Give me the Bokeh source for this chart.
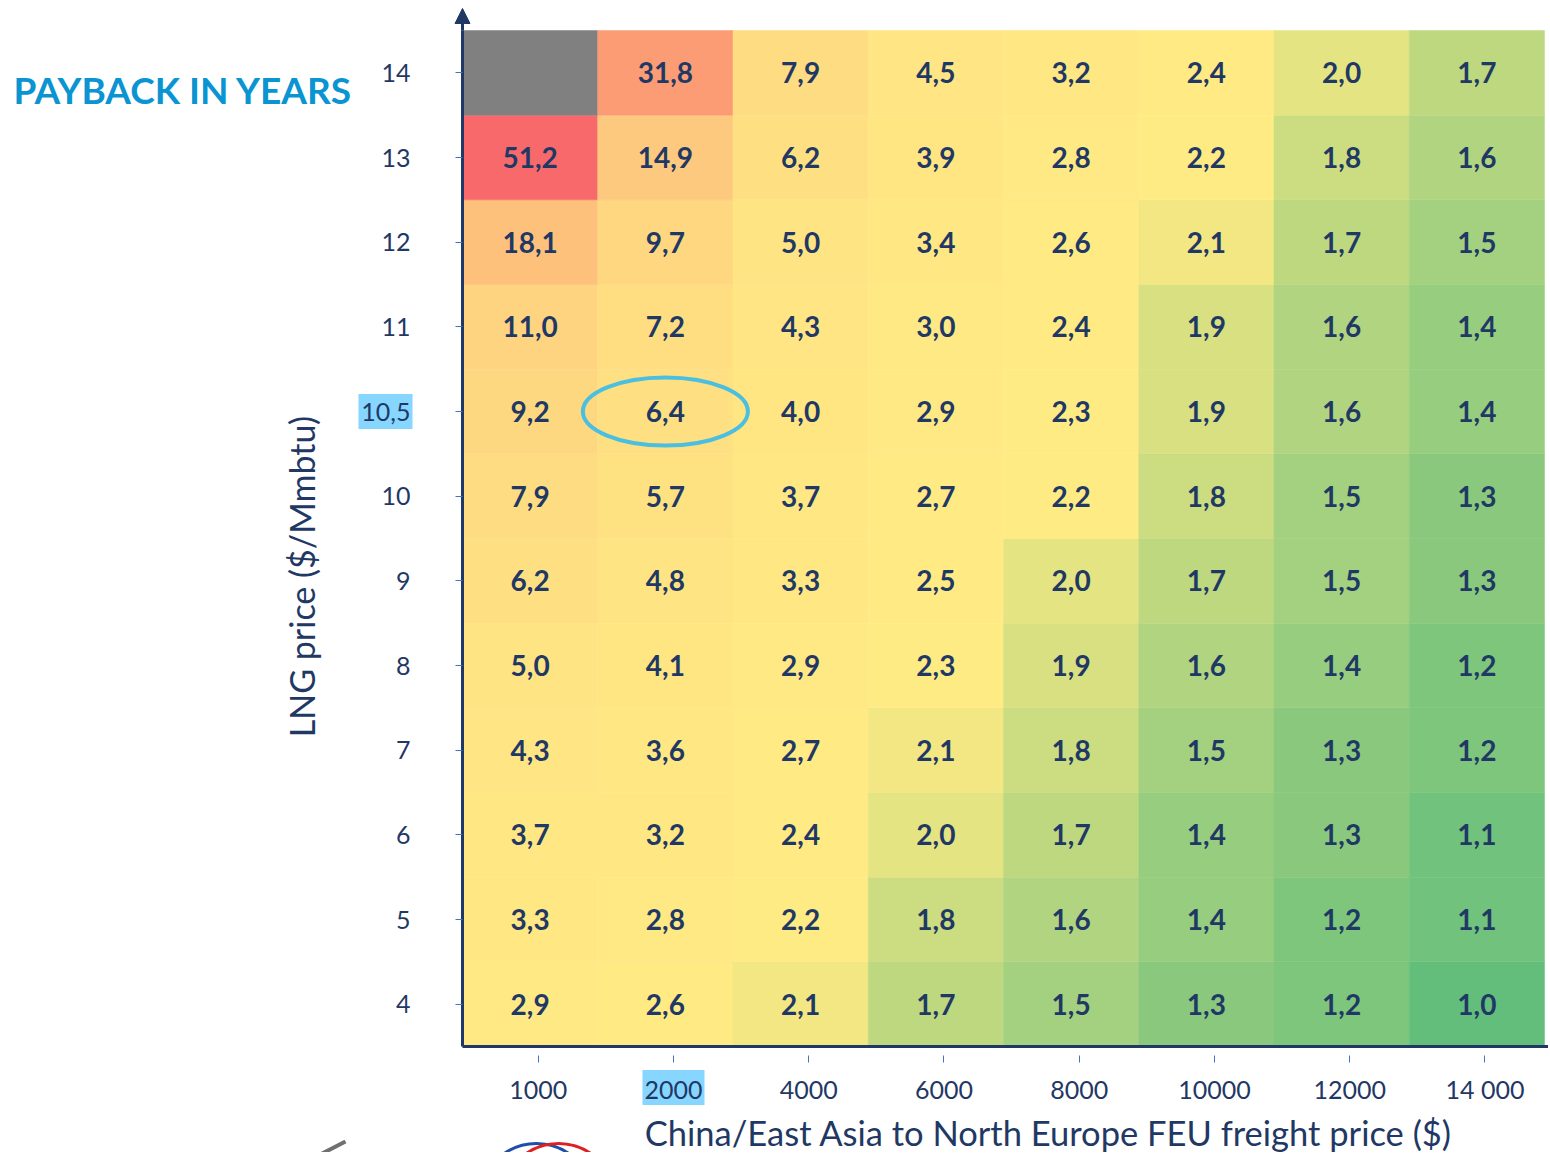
import numpy as np
from bokeh.plotting import figure
from bokeh.models import FixedTicker, Range1d, Label, Arrow, NormalHead, ColumnDataSource
from bokeh.core.properties import value
from bokeh.embed import file_html
from bokeh.resources import INLINE

# ---------------- data ----------------
freight_labels = ["1000", "2000", "4000", "6000", "8000", "10000", "12000", "14 000"]
lng_labels = ["4", "5", "6", "7", "8", "9", "10", "10,5", "11", "12", "13", "14"]  # bottom -> top

# payback in years, rows from LNG price 4 (bottom) up to 14 (top); None = empty cell
row_4 = [2.9, 2.6, 2.1, 1.7, 1.5, 1.3, 1.2, 1.0]
row_5 = [3.3, 2.8, 2.2, 1.8, 1.6, 1.4, 1.2, 1.1]
row_6 = [3.7, 3.2, 2.4, 2.0, 1.7, 1.4, 1.3, 1.1]
row_7 = [4.3, 3.6, 2.7, 2.1, 1.8, 1.5, 1.3, 1.2]
row_8 = [5.0, 4.1, 2.9, 2.3, 1.9, 1.6, 1.4, 1.2]
row_9 = [6.2, 4.8, 3.3, 2.5, 2.0, 1.7, 1.5, 1.3]
row_10 = [7.9, 5.7, 3.7, 2.7, 2.2, 1.8, 1.5, 1.3]
row_10_5 = [9.2, 6.4, 4.0, 2.9, 2.3, 1.9, 1.6, 1.4]
row_11 = [11.0, 7.2, 4.3, 3.0, 2.4, 1.9, 1.6, 1.4]
row_12 = [18.1, 9.7, 5.0, 3.4, 2.6, 2.1, 1.7, 1.5]
row_13 = [51.2, 14.9, 6.2, 3.9, 2.8, 2.2, 1.8, 1.6]
row_14 = [None, 31.8, 7.9, 4.5, 3.2, 2.4, 2.0, 1.7]
rows = [row_4, row_5, row_6, row_7, row_8, row_9, row_10, row_10_5, row_11, row_12, row_13, row_14]

highlight_freight = "2000"
highlight_lng = "10,5"

# ---------------- colour scale (red-yellow-green, 3 point) ----------------
all_vals = np.array([v for r in rows for v in r if v is not None])
lo, mid, hi = all_vals.min(), np.percentile(all_vals, 50), all_vals.max()
c_lo = np.array([0x63, 0xBE, 0x7B])
c_mid = np.array([0xFF, 0xEB, 0x84])
c_hi = np.array([0xF8, 0x69, 0x6B])


def scale_color(v):
    if v is None:
        return "#808080"
    if v <= mid:
        t = (v - lo) / (mid - lo)
        c = c_lo + (c_mid - c_lo) * t
    else:
        t = (v - mid) / (hi - mid)
        c = c_mid + (c_hi - c_mid) * t
    c = np.clip(np.round(c), 0, 255).astype(int)
    return "#%02x%02x%02x" % tuple(c)


xs, ys, cols, txt = [], [], [], []
for j, r in enumerate(rows):
    for i, v in enumerate(r):
        xs.append(i + 0.5)
        ys.append(j + 0.5)
        cols.append(scale_color(v))
        txt.append("" if v is None else f"{v:.1f}".replace(".", ","))
src = ColumnDataSource(dict(x=xs, y=ys, color=cols, text=txt))

NAVY = "#1F3864"
TICK_BLUE = "#4472C4"

# ---------------- layout geometry (pixels) ----------------
W, H = 1548, 1152
grid_left, grid_right, grid_top, grid_bottom = 462, 1544, 30, 1046
ncol, nrow = len(freight_labels), len(lng_labels)
px_x = (grid_right - grid_left) / ncol
px_y = (grid_bottom - grid_top) / nrow
x_range = Range1d(-grid_left / px_x, ncol + (W - grid_right) / px_x)
y_range = Range1d(-(H - grid_bottom) / px_y, nrow + grid_top / px_y)


def dx(px):  # page x -> data x
    return (px - grid_left) / px_x


def dy(py):  # page y -> data y
    return (grid_bottom - py) / px_y


p = figure(width=W, height=H, output_backend="svg", toolbar_location=None,
           x_range=x_range, y_range=y_range,
           min_border_left=0, min_border_right=0, min_border_top=0, min_border_bottom=0)
p.outline_line_color = None
p.xgrid.visible = False
p.ygrid.visible = False
p.background_fill_color = "white"
p.border_fill_color = "white"

p.rect(x="x", y="y", width=1, height=1, fill_color="color", line_color="color",
       line_width=0.5, source=src)
p.text(x="x", y="y", text="text", source=src, text_align="center", text_baseline="middle",
       text_font_size="28px", text_font_style="bold", text_color=NAVY,
       text_font=value("Lato"))

# ellipse around the highlighted cell
hx = freight_labels.index(highlight_freight) + 0.5
hy = lng_labels.index(highlight_lng) + 0.5
p.ellipse(x=[hx], y=[hy], width=[165], height=[68], width_units="screen",
          height_units="screen", fill_alpha=0, line_color="#4BBFE0", line_width=4)

# highlight boxes behind two tick labels
x_tick_off = 0.56
p.rect(x=[freight_labels.index(highlight_freight) + x_tick_off], y=[dy(1087)],
       width=[62], height=[35], width_units="screen", height_units="screen",
       fill_color="#86D6FF", line_color=None)
p.rect(x=[dx(385)], y=[lng_labels.index(highlight_lng) + 0.5],
       width=[54], height=[35], width_units="screen", height_units="screen",
       fill_color="#86D6FF", line_color=None)

# axes placed at the edges of the grid
xax = p.xaxis[0]
xax.fixed_location = 0
xax.bounds = (0, ncol + 0.03)
xax.ticker = FixedTicker(ticks=[i + x_tick_off for i in range(ncol)])
xax.major_label_overrides = {i + x_tick_off: l for i, l in enumerate(freight_labels)}
xax.axis_line_color = NAVY
xax.axis_line_width = 3
xax.major_tick_line_color = TICK_BLUE
xax.major_tick_in = -9
xax.major_tick_out = 16
xax.minor_tick_line_color = None
xax.major_label_text_font = "Lato"
xax.major_label_text_font_size = "25px"
xax.major_label_text_color = NAVY
xax.major_label_standoff = 11

yax = p.yaxis[0]
yax.fixed_location = 0
yax.bounds = (0, nrow)
yax.ticker = FixedTicker(ticks=[j + 0.5 for j in range(nrow)])
yax.major_label_overrides = {j + 0.5: l for j, l in enumerate(lng_labels)}
yax.axis_line_color = NAVY
yax.axis_line_width = 3
yax.major_tick_line_color = TICK_BLUE
yax.major_tick_in = 0
yax.major_tick_out = 7
yax.minor_tick_line_color = None
yax.major_label_text_font = "Lato"
yax.major_label_text_font_size = "25px"
yax.major_label_text_color = NAVY
yax.major_label_standoff = 45

# arrow at the top of the y axis
p.add_layout(Arrow(x_start=0, y_start=nrow, x_end=0, y_end=dy(8),
                   line_color=NAVY, line_width=3,
                   end=NormalHead(size=15, fill_color=NAVY, line_color=NAVY)))

# titles
p.add_layout(Label(x=dx(1048), y=dy(1132), text="China/East Asia to North Europe FEU freight price ($)",
                   text_align="center", text_baseline="middle", text_font="Lato",
                   text_font_size="34.5px", text_color=NAVY))
p.add_layout(Label(x=dx(301), y=dy(576), text="LNG price ($/Mmbtu)", angle=np.pi / 2,
                   text_align="center", text_baseline="middle", text_font="Lato",
                   text_font_size="34px", text_color=NAVY))
p.add_layout(Label(x=dx(13), y=dy(89), text="PAYBACK IN YEARS",
                   text_align="left", text_baseline="middle", text_font="Lato",
                   text_font_style="bold", text_font_size="37px", text_color="#0A95D2"))

# partial logos at the bottom edge
p.arc(x=[dx(536)], y=[dy(1200)], radius=[57], radius_units="screen",
      start_angle=[0.2], end_angle=[np.pi - 0.2], line_color="#1F4FA8", line_width=3)
p.arc(x=[dx(558)], y=[dy(1200)], radius=[57], radius_units="screen",
      start_angle=[0.2], end_angle=[np.pi - 0.2], line_color="#E02020", line_width=3)
p.line(x=[dx(312), dx(345)], y=[dy(1158), dy(1141)], line_color="#707070", line_width=4)

open("out.html", "w").write(file_html(p, INLINE))
